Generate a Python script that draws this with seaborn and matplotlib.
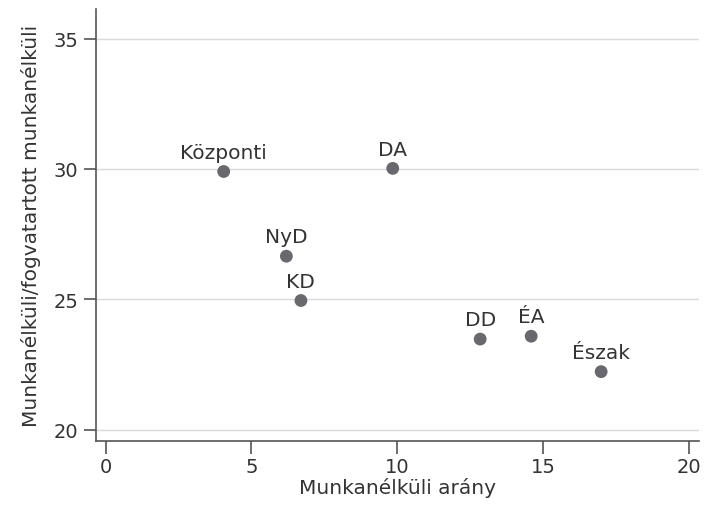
import numpy as np
import pandas as pd
import seaborn as sns
import matplotlib.pyplot as plt

regions = ["Központi", "DA", "NyD", "KD", "DD", "ÉA", "Észak"]
unemp_rate = [4.05, 9.85, 6.2, 6.7, 12.85, 14.6, 17.0]
ratio = [29.9, 30.02, 26.65, 24.95, 23.47, 23.58, 22.22]

df = pd.DataFrame({"rate": unemp_rate, "ratio": ratio, "region": regions})

sns.set_style("white")
plt.rcParams["font.family"] = ["DejaVu Sans"]
txt = "#333333"
fs = 14.5

fig = plt.figure(figsize=(7.04, 5.06), dpi=100)
ax = fig.add_axes([0.136, 0.126, 0.857, 0.855])

for y in [20, 25, 30, 35]:
    ax.axhline(y, color="#d9d9d9", lw=1, zorder=0)

sns.scatterplot(data=df, x="rate", y="ratio", ax=ax, color="#68686e",
                s=85, edgecolor="none", zorder=3)

for i, r in df.iterrows():
    ax.annotate(r["region"], (r["rate"], r["ratio"]), xytext=(0, 7),
                textcoords="offset points", ha="center", va="bottom",
                fontsize=fs, color=txt)

ax.set_xlim(-0.34, 20.36)
ax.set_ylim(19.55, 36.15)
ax.set_xticks([0, 5, 10, 15, 20])
ax.set_yticks([20, 25, 30, 35])
ax.set_xlabel("Munkanélküli arány", fontsize=fs, color=txt, labelpad=1)
ax.set_ylabel("Munkanélküli/fogvatartott munkanélküli", fontsize=fs, color=txt, labelpad=9)
ax.tick_params(axis="both", labelsize=14, labelcolor=txt, color="#555555",
               length=9, width=1.2, direction="out", bottom=True, left=True)
ax.tick_params(axis="x", pad=2)
for s in ["top", "right"]:
    ax.spines[s].set_visible(False)
for s in ["left", "bottom"]:
    ax.spines[s].set_color("#555555")
    ax.spines[s].set_linewidth(1.2)

fig.savefig("out.png", dpi=100)
